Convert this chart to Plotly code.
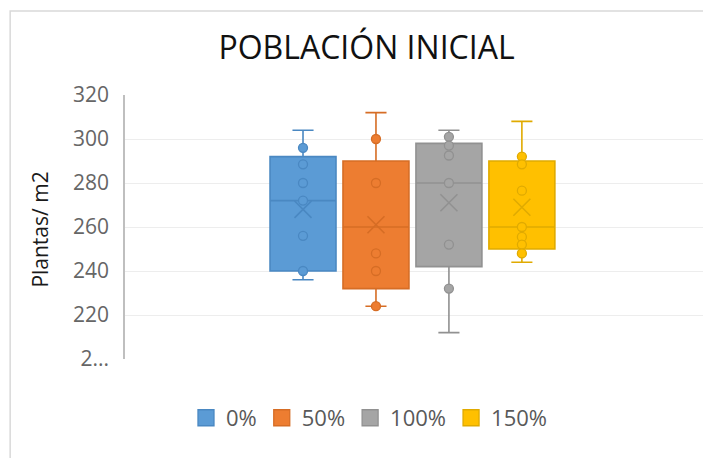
import plotly.graph_objects as go

# ---- data ----
series = ["0%", "50%", "100%", "150%"]
q1 = [240, 232, 242, 250]
median = [272, 260, 280, 260]
q3 = [292, 290, 298, 290]
lower = [236, 224, 212, 244]
upper = [304, 312, 304, 308]
means = [268, 261, 271, 269]
points_0 = [296, 288.5, 280, 272, 256, 240]
points_50 = [300, 280, 248, 240, 224]
points_100 = [301, 297, 292.5, 280, 252, 232]
points_150 = [292, 288.5, 276.5, 260, 255.5, 252, 248]
points = [points_0, points_50, points_100, points_150]

tick_vals = [200, 220, 240, 260, 280, 300, 320]
tick_text = ["2...", "220", "240", "260", "280", "300", "320"]

fills = ["#5B9BD5", "#ED7D31", "#A5A5A5", "#FFC000"]
lines = ["#4A88C2", "#D66D25", "#919191", "#E0AA00"]

FONT = "Open Sans"
fig = go.Figure()

for i, name in enumerate(series):
    fig.add_trace(go.Box(
        x=[i], q1=[q1[i]], median=[median[i]], q3=[q3[i]],
        lowerfence=[lower[i]], upperfence=[upper[i]],
        fillcolor=fills[i], line=dict(color=lines[i], width=1.6),
        width=0.904, whiskerwidth=0.32, boxpoints=False,
        showlegend=False, hoverinfo="skip"))
    fig.add_trace(go.Scatter(
        x=[i] * len(points[i]), y=points[i], mode="markers",
        marker=dict(symbol="circle", size=9, color=fills[i],
                    line=dict(color=lines[i], width=1.3)),
        showlegend=False, hoverinfo="skip"))
    fig.add_trace(go.Scatter(
        x=[i], y=[means[i]], mode="markers",
        marker=dict(symbol="x-thin", size=17,
                    line=dict(color=lines[i], width=1.6)),
        showlegend=False, hoverinfo="skip"))

for i, name in enumerate(series):
    fig.add_trace(go.Scatter(
        x=[None], y=[None], mode="markers", name=name,
        marker=dict(symbol="square", size=20, color=fills[i],
                    line=dict(color=lines[i], width=1.3))))

# the page body has an 8px default margin, so the figure is 8px smaller
fig.update_layout(
    width=703, height=450,
    margin=dict(l=117, r=6, t=87, b=99),
    paper_bgcolor="white", plot_bgcolor="white",
    font=dict(family=FONT, color="#595959", size=21),
    title=dict(text="POBLACIÓN INICIAL", x=0.51, xref="container",
               y=0.912, yref="container", xanchor="center", yanchor="middle",
               font=dict(family=FONT, size=32, color="#111111")),
    xaxis=dict(range=[-2.44, 5.51], visible=False, fixedrange=True),
    yaxis=dict(range=[200, 320], tickvals=tick_vals, ticktext=tick_text,
               showgrid=True, gridcolor="#EDEDED", gridwidth=1,
               showline=True, linecolor="#BFBFBF", linewidth=1.5,
               zeroline=False, ticks="", ticklabelstandoff=10,
               tickfont=dict(size=21, color="#666666")),
    legend=dict(orientation="h", x=0.5135, xref="container", xanchor="center",
                y=0.089, yref="container", yanchor="middle",
                font=dict(size=22, color="#595959")),
    annotations=[dict(text="Plantas/ m2", xref="paper", yref="paper",
                      x=-0.1466, y=0.49, textangle=-90, showarrow=False,
                      xanchor="center", yanchor="middle",
                      font=dict(size=21, color="#1a1a1a"))],
    shapes=[dict(type="rect", xref="paper", yref="paper",
                 x0=-0.198, x1=1.2, y0=-0.6, y1=1.318,
                 line=dict(color="#D9D9D9", width=1.5), layer="below")],
)

fig.write_html("out.html")
